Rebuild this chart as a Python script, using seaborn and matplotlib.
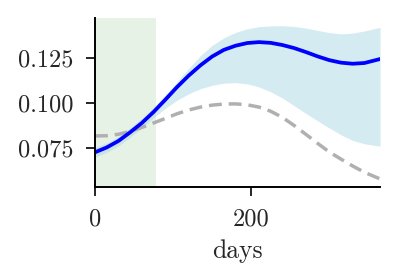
import numpy as np
import pandas as pd
import seaborn as sns
import matplotlib.pyplot as plt

# data
days = [0, 15, 30, 45, 60, 75, 90, 105, 120, 135, 150, 165, 180,
        195, 210, 225, 240, 255, 270, 285, 300, 315, 330, 345, 365]
mean = [0.0726, 0.0753, 0.0789, 0.0837, 0.0889, 0.0950, 0.1018, 0.1088, 0.1152,
        0.1209, 0.1258, 0.1295, 0.1318, 0.1333, 0.1338, 0.1334, 0.1322, 0.1305,
        0.1283, 0.1259, 0.1238, 0.1224, 0.1218, 0.1222, 0.1244]
upper = [0.0752, 0.0778, 0.0813, 0.0862, 0.0914, 0.0975, 0.1043, 0.1117, 0.1192,
         0.1263, 0.1320, 0.1362, 0.1392, 0.1412, 0.1424, 0.1428, 0.1429, 0.1425,
         0.1416, 0.1403, 0.1391, 0.1384, 0.1388, 0.1400, 0.1420]
lower = [0.0700, 0.0725, 0.0762, 0.0810, 0.0862, 0.0918, 0.0970, 0.1015, 0.1051,
         0.1079, 0.1098, 0.1110, 0.1113, 0.1106, 0.1089, 0.1062, 0.1027, 0.0985,
         0.0942, 0.0901, 0.0861, 0.0823, 0.0792, 0.0773, 0.0760]
baseline = [0.0817, 0.0818, 0.0826, 0.0842, 0.0864, 0.0889, 0.0914, 0.0940, 0.0961,
            0.0977, 0.0988, 0.0994, 0.0995, 0.0990, 0.0977, 0.0954, 0.0920, 0.0875,
            0.0826, 0.0776, 0.0728, 0.0688, 0.0650, 0.0615, 0.0578]
span_end = 78
xticks = [0, 200]
yticks = [0.075, 0.100, 0.125]

df = pd.DataFrame({"days": days, "mean": mean, "upper": upper,
                   "lower": lower, "baseline": baseline})

sns.set_theme(style="ticks")
plt.rcParams["font.family"] = ["cmr10", "DejaVu Serif"]
plt.rcParams["mathtext.fontset"] = "cm"
plt.rcParams["axes.formatter.use_mathtext"] = True

fig = plt.figure(figsize=(3.98, 2.8), dpi=100)
ax = fig.add_axes([0.2387, 0.332, 0.7161, 0.6037])

# green window, band, baseline and fitted curve
ax.axvspan(0, span_end, color="green", alpha=0.1, lw=0, zorder=0)
ax.fill_between(df["days"], df["lower"], df["upper"], color="lightblue", alpha=0.5, lw=0)
sns.lineplot(data=df, x="days", y="baseline", ax=ax, color="#b0b0b0", lw=2.5,
             linestyle=(0, (3.7, 2.0)))
sns.lineplot(data=df, x="days", y="mean", ax=ax, color="blue", lw=2.7)

ax.set_xlim(0, 365)
ax.set_ylim(0.0533, 0.1472)
ax.set_xticks(xticks)
ax.set_yticks(yticks)
ax.set_xticklabels([str(t) for t in xticks])
ax.set_yticklabels([f"{t:.3f}" for t in yticks])
ax.set_xlabel("days", fontsize=18.5, labelpad=6)
ax.set_ylabel("")
ax.tick_params(labelsize=17.5, length=6.5, width=1.2, color="black", pad=9)
for s in ["left", "bottom"]:
    ax.spines[s].set_linewidth(1.4)
    ax.spines[s].set_color("black")
sns.despine(ax=ax)

fig.savefig("out.png", dpi=100)
